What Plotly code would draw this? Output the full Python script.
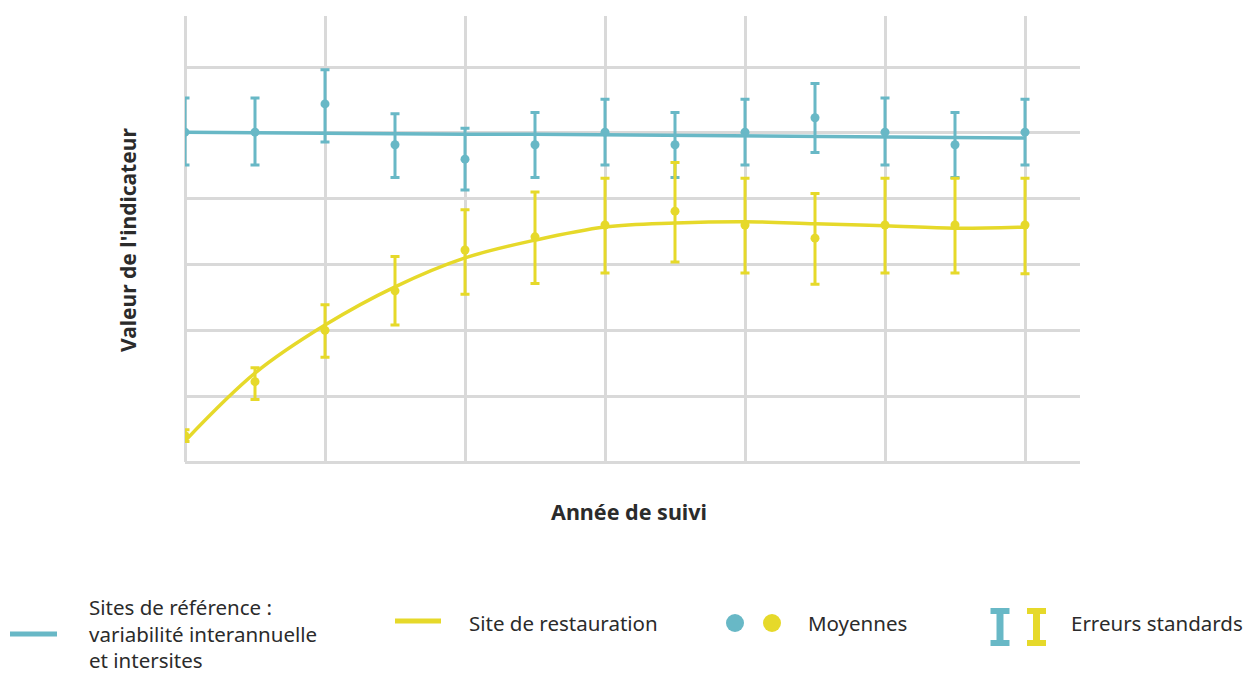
import plotly.graph_objects as go

# ---------------- data ----------------
years = list(range(13))

ref_means = [5.01, 5.01, 5.44, 4.82, 4.60, 4.82, 5.01, 4.82, 5.01, 5.23, 5.01, 4.82, 5.01]
ref_err_up = [0.52, 0.52, 0.52, 0.47, 0.47, 0.49, 0.50, 0.49, 0.50, 0.52, 0.52, 0.49, 0.50]
ref_err_down = [0.50, 0.50, 0.58, 0.50, 0.47, 0.50, 0.50, 0.50, 0.50, 0.53, 0.50, 0.50, 0.50]
ref_trend = [5.01, 5.00, 5.00, 4.99, 4.98, 4.98, 4.97, 4.96, 4.95, 4.95, 4.94, 4.93, 4.92]

rest_means = [0.40, 1.22, 2.00, 2.60, 3.22, 3.42, 3.60, 3.81, 3.60, 3.40, 3.60, 3.60, 3.60]
rest_err_up = [0.09, 0.21, 0.39, 0.52, 0.61, 0.68, 0.71, 0.74, 0.71, 0.68, 0.71, 0.71, 0.71]
rest_err_down = [0.09, 0.27, 0.41, 0.52, 0.67, 0.71, 0.73, 0.77, 0.73, 0.70, 0.73, 0.73, 0.74]
rest_trend = [0.32, 1.35, 2.08, 2.66, 3.10, 3.37, 3.57, 3.63, 3.65, 3.62, 3.59, 3.55, 3.57]

x_grid = [0, 2, 4, 6, 8, 10, 12]
y_grid = [0, 1, 2, 3, 4, 5, 6]

legend_labels = ["Sites de référence :<br>variabilité interannuelle<br>et intersites",
                 "Site de restauration", "Moyennes", "Erreurs standards"]
x_title = "Année de suivi"
y_title = "Valeur de l'indicateur"

# ---------------- style ----------------
TEAL = "#68b8c6"
YELLOW = "#e6d92a"
GRID = "#d9d9d9"
TXT = "#2b2b2b"
FONT = "Noto Sans"

W, H = 1255, 673
L, R, T, B = 185, 1080, 16, 462  # plot area in px


def px(xp):
    return (xp - L) / (R - L)


def py(yp):
    return (B - yp) / (B - T)


fig = go.Figure()

fig.add_trace(go.Scatter(x=years, y=ref_trend, mode="lines", line=dict(color=TEAL, width=3.5),
                         hoverinfo="skip", showlegend=False))
fig.add_trace(go.Scatter(
    x=years, y=ref_means, mode="markers", marker=dict(color=TEAL, size=9),
    error_y=dict(type="data", symmetric=False, array=ref_err_up, arrayminus=ref_err_down,
                 color=TEAL, thickness=3, width=4.5),
    showlegend=False))
fig.add_trace(go.Scatter(x=years, y=rest_trend, mode="lines", line=dict(color=YELLOW, width=3.5, shape="spline"),
                         hoverinfo="skip", showlegend=False))
fig.add_trace(go.Scatter(
    x=years, y=rest_means, mode="markers", marker=dict(color=YELLOW, size=9),
    error_y=dict(type="data", symmetric=False, array=rest_err_up, arrayminus=rest_err_down,
                 color=YELLOW, thickness=3, width=4.5),
    showlegend=False))

x_max = (R - L) / 70.0
y_max = (B - T) / 65.83

fig.update_xaxes(range=[0, x_max], tickvals=x_grid, showticklabels=False, showgrid=True,
                 gridcolor=GRID, gridwidth=2.5, zeroline=True, zerolinecolor=GRID, zerolinewidth=2.5,
                 ticks="", showline=False, fixedrange=True)
fig.update_yaxes(range=[0, y_max], tickvals=y_grid, showticklabels=False, showgrid=True,
                 gridcolor=GRID, gridwidth=2.5, zeroline=True, zerolinecolor=GRID, zerolinewidth=2.5,
                 ticks="", showline=False, fixedrange=True)

shapes = []
# legend: line samples
shapes.append(dict(type="line", xref="paper", yref="paper", x0=px(10), x1=px(57), y0=py(634), y1=py(634),
                   line=dict(color=TEAL, width=5)))
shapes.append(dict(type="line", xref="paper", yref="paper", x0=px(395), x1=px(441), y0=py(621), y1=py(621),
                   line=dict(color=YELLOW, width=5)))
# legend: dots
for cx, col in [(735, TEAL), (772, YELLOW)]:
    shapes.append(dict(type="circle", xref="paper", yref="paper", x0=px(cx - 9), x1=px(cx + 9),
                       y0=py(623 + 9), y1=py(623 - 9), fillcolor=col, line=dict(width=0)))
# legend: error bar icons
for cx, col in [(1000, TEAL), (1036.5, YELLOW)]:
    for (a, b, c, d) in [(cx - 3.5, cx + 3.5, 608, 646), (cx - 9.5, cx + 9.5, 608, 614),
                         (cx - 9.5, cx + 9.5, 640, 646)]:
        shapes.append(dict(type="rect", xref="paper", yref="paper", x0=px(a), x1=px(b),
                           y0=py(d), y1=py(c), fillcolor=col, line=dict(width=0)))

annotations = []
annotations.append(dict(text=f"<b>{x_title}</b>", xref="paper", yref="paper", x=px(629), y=py(511),
                        showarrow=False, font=dict(family=FONT, size=21.5, color=TXT),
                        xanchor="center", yanchor="middle"))
annotations.append(dict(text=f"<b>{y_title}</b>", xref="paper", yref="paper", x=px(128), y=py(240),
                        showarrow=False, textangle=-90, font=dict(family=FONT, size=21, color=TXT),
                        xanchor="center", yanchor="middle"))
leg_pos = [(88, 633), (468, 623), (807, 623), (1070, 623)]
for lab, (lx, ly) in zip(legend_labels, leg_pos):
    annotations.append(dict(text=lab, xref="paper", yref="paper", x=px(lx), y=py(ly), showarrow=False,
                            font=dict(family=FONT, size=20.5, color=TXT), xanchor="left", yanchor="middle",
                            align="left", borderpad=0))

fig.update_layout(width=W, height=H, margin=dict(l=L, r=W - R, t=T, b=H - B, pad=0),
                  plot_bgcolor="white", paper_bgcolor="white", shapes=shapes, annotations=annotations,
                  showlegend=False)

fig.write_html("out.html", config={"displayModeBar": False},
               post_script="document.body.style.margin='0';document.body.style.overflow='hidden';")
